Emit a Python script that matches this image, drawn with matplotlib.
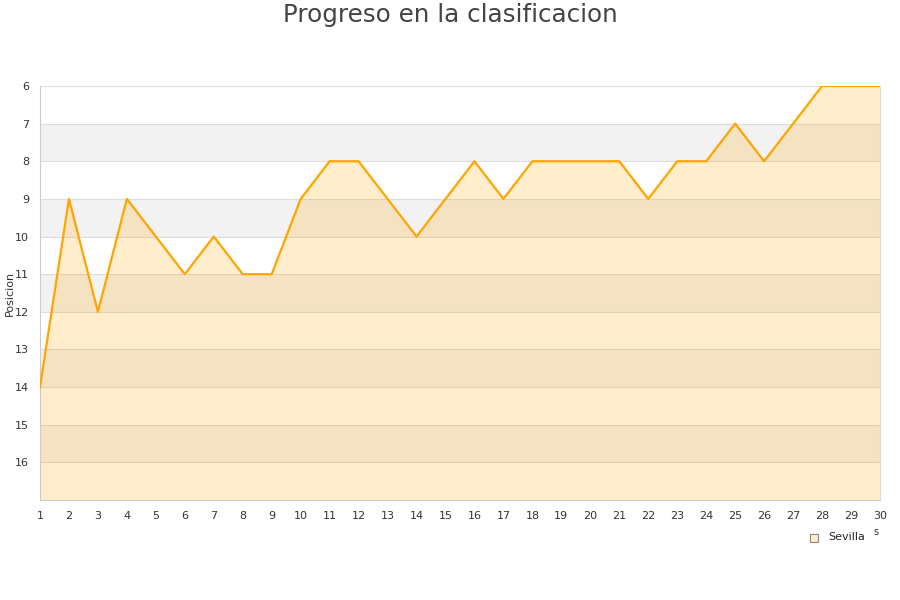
import matplotlib
matplotlib.use("Agg")
import matplotlib.pyplot as plt

jornadas = list(range(1, 31))
posiciones = [14, 9, 12, 9, 10, 11, 10, 11, 11, 9, 8, 8, 9, 10, 9,
              8, 9, 8, 8, 8, 8, 9, 8, 8, 7, 8, 7, 6, 6, 6]
y_ticks = list(range(6, 17))

fig = plt.figure(figsize=(9, 6), dpi=100)
ax = fig.add_axes([40 / 900, 100 / 600, 840 / 900, 414 / 600])

# alternating bands
for y0 in range(7, 17, 2):
    ax.axhspan(y0, y0 + 1, color="#f2f2f2", zorder=0, lw=0)
for y in range(6, 18):
    ax.axhline(y, color="#dddddd", lw=0.8, zorder=1)

ax.fill_between(jornadas, posiciones, 17, color="#ffa500", alpha=0.2, lw=0, zorder=2)
ax.plot(jornadas, posiciones, color="#ffa500", lw=1.6, zorder=3)

ax.set_xlim(1, 30)
ax.set_ylim(17, 6)
ax.set_xticks(jornadas)
ax.set_yticks(y_ticks)
ax.tick_params(axis="both", length=0, labelsize=8, colors="#333333", pad=8)
ax.spines["top"].set_visible(False)
ax.spines["left"].set_color("#cccccc")
ax.spines["bottom"].set_color("#cccccc")
ax.spines["right"].set_color("#dddddd")
ax.set_ylabel("Posicion", fontsize=8, color="#333333", labelpad=0)

fig.text(0.5, 0.995, "Progreso en la clasificacion", ha="center", va="top",
         fontsize=17.7, color="#444444")

# legend
fig.patches.append(plt.Rectangle((810 / 900, 1 - 542 / 600), 8 / 900, 8 / 600,
                                 transform=fig.transFigure, facecolor="#ffedcc",
                                 edgecolor="#888888", lw=0.8))
fig.text(828 / 900, 1 - 537 / 600, "Sevilla", fontsize=8, va="center", color="#222222")
fig.text(873 / 900, 1 - 532 / 600, "s", fontsize=7, va="center", color="#333333")

fig.savefig("out.png", dpi=100)
